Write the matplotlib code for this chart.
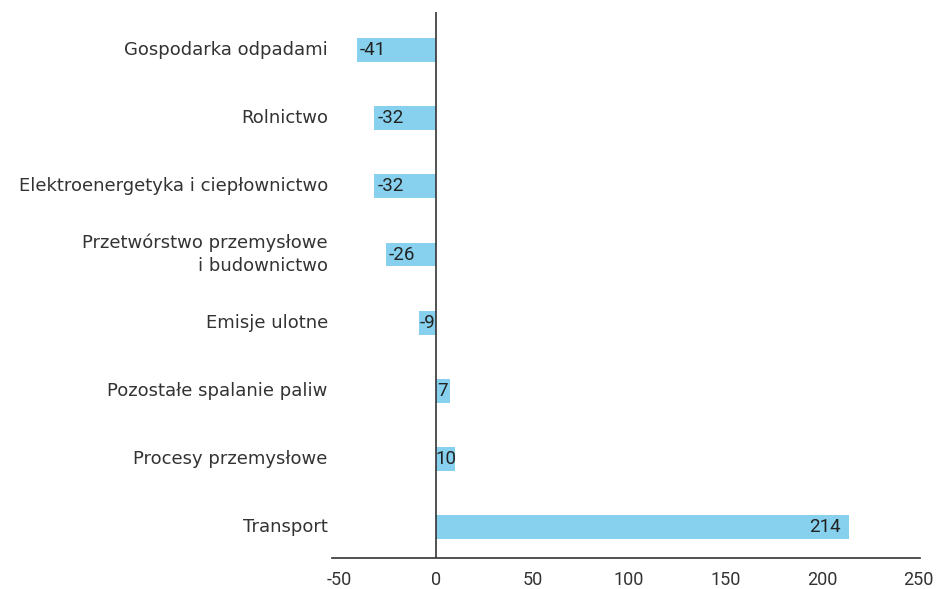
import matplotlib
matplotlib.use("Agg")
import matplotlib.pyplot as plt
from matplotlib.transforms import offset_copy

categories = ["Gospodarka odpadami", "Rolnictwo", "Elektroenergetyka i ciepłownictwo",
              "Przetwórstwo przemysłowe\ni budownictwo", "Emisje ulotne",
              "Pozostałe spalanie paliw", "Procesy przemysłowe", "Transport"]
values = [-41, -32, -32, -26, -9, 7, 10, 214]
xticks = [-50, 0, 50, 100, 150, 200, 250]

bar_color = "#87D1EE"
dark = "#333333"

fig = plt.figure(figsize=(9.39, 5.89), dpi=100)
ax = fig.add_axes([0.3536, 0.0526, 0.6264, 0.927])

pos = list(range(len(categories)))
ax.barh(pos, values, height=0.35, color=bar_color, zorder=2)
ax.axvline(0, color=dark, lw=1.2, zorder=3)

ax.set_xlim(-54, 251)
ax.set_ylim(7.455, -0.56)
ax.set_xticks(xticks)
ax.set_xticklabels([str(t) for t in xticks], fontfamily="Roboto", fontsize=13, color=dark)
ax.set_yticks(pos)
ax.set_yticklabels(categories, fontfamily="DejaVu Sans", fontsize=13, color=dark,
                   linespacing=1.35, va="center")
ax.tick_params(axis="both", length=0)
ax.tick_params(axis="y", pad=3)
ax.tick_params(axis="x", pad=9)
for lbl in ax.get_yticklabels():
    lbl.set_transform(lbl.get_transform() + offset_copy(fig.dpi_scale_trans, fig=fig, x=0, y=2, units="points") - fig.dpi_scale_trans)
for s in ["top", "right", "left"]:
    ax.spines[s].set_visible(False)
ax.spines["bottom"].set_color(dark)
ax.spines["bottom"].set_linewidth(1.2)

for p, v in zip(pos, values):
    if abs(v) < 15:
        x, ha, dx = v / 2, "center", 0
    elif v < 0:
        x, ha, dx = v, "left", 2
    else:
        x, ha, dx = v, "right", -6
    tr = offset_copy(ax.transData, fig=fig, x=dx, y=0, units="points")
    ax.text(x, p, str(v), transform=tr, ha=ha, va="center", fontfamily="Roboto",
            fontsize=13.5, color="#222222", zorder=4)

fig.savefig("out.png", dpi=100)
